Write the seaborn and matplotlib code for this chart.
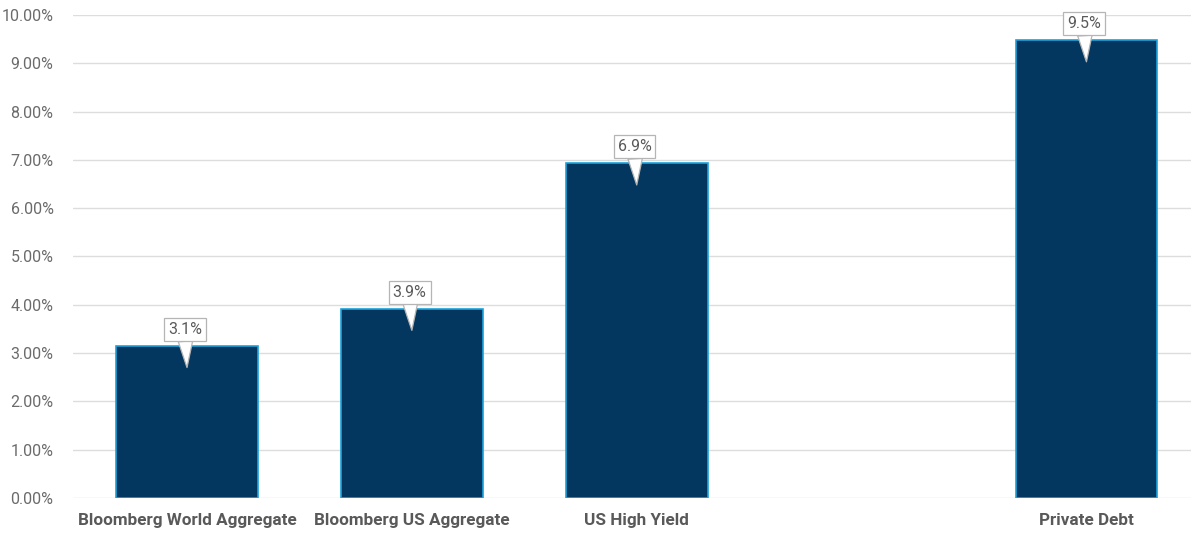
import pandas as pd
import seaborn as sns
import matplotlib.pyplot as plt
from matplotlib.ticker import FuncFormatter

categories = ["Bloomberg World Aggregate", "Bloomberg US Aggregate", "US High Yield", "Private Debt"]
yields = [3.15, 3.92, 6.93, 9.48]
value_labels = ["3.1%", "3.9%", "6.9%", "9.5%"]
# empty slot between High Yield and Private Debt
slot_order = ["Bloomberg World Aggregate", "Bloomberg US Aggregate", "US High Yield", " ", "Private Debt"]

df = pd.DataFrame({"category": categories, "yield": yields})

sns.set_style("white")
plt.rcParams["font.family"] = ["Roboto", "DejaVu Sans"]

fig = plt.figure(figsize=(11.91, 5.33), dpi=100)
ax = fig.add_axes([0.0613, 0.0657, 0.9387, 0.9062])

sns.barplot(data=df, x="category", y="yield", order=slot_order, color="#04375f",
            saturation=1, width=0.63, edgecolor="#1aa3dc", linewidth=1.2, ax=ax, zorder=2)

ax.set_ylim(0, 10)
ax.set_xlim(-0.507, 4.465)
ax.set_yticks(range(0, 11))
ax.yaxis.set_major_formatter(FuncFormatter(lambda v, _: f"{v:.2f}%"))
ax.grid(axis="y", color="#dddddd", linewidth=1, zorder=0)
ax.set_axisbelow(True)
for s in ax.spines.values():
    s.set_visible(False)
ax.set_xlabel("")
ax.set_ylabel("")
ax.tick_params(axis="y", length=0, pad=14, labelsize=11.5, labelcolor="#6b6b6b")
ax.tick_params(axis="x", length=0, pad=11, labelsize=12.3, labelcolor="#595959")
for t in ax.get_xticklabels():
    t.set_fontweight("bold")

for cat, v, lab in zip(categories, yields, value_labels):
    i = slot_order.index(cat)
    ax.annotate(lab, xy=(i, v - 0.45), xytext=(i - 0.01, v + 0.34),
                ha="center", va="center", fontsize=11.5, color="#5a5a5a",
                bbox=dict(boxstyle="square,pad=0.25", fc="white", ec="#b5b5b5", lw=0.9),
                arrowprops=dict(arrowstyle="wedge,tail_width=0.9,shrink_factor=0.5",
                                fc="white", ec="#b5b5b5", lw=0.9, shrinkA=0, shrinkB=0),
                zorder=5)

fig.savefig("out.png", dpi=100)
